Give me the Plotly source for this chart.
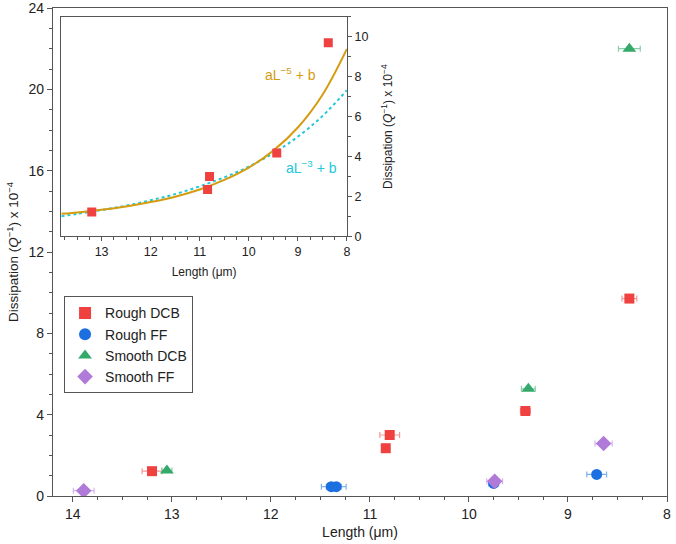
import plotly.graph_objects as go

# ---------------- data ----------------
rough_dcb_L = [13.20, 10.80, 10.84, 9.43, 8.38]
rough_dcb_Q = [1.22, 3.00, 2.35, 4.18, 9.71]
rough_dcb_err = [0.10, 0.10, 0.03, 0.05, 0.075]

rough_ff_L = [11.39, 11.34, 9.75, 8.71]
rough_ff_Q = [0.46, 0.46, 0.62, 1.06]
rough_ff_err = [0.10, 0.10, 0.05, 0.10]

smooth_dcb_L = [13.05, 9.40, 8.38]
smooth_dcb_Q = [1.25, 5.27, 22.0]
smooth_dcb_err = [0.05, 0.07, 0.11]

smooth_ff_L = [13.89, 9.74, 8.64]
smooth_ff_Q = [0.26, 0.72, 2.58]
smooth_ff_err = [0.105, 0.08, 0.087]

# inset fit curves
fit_L = [13.82, 13.5, 13.0, 12.5, 12.0, 11.5, 11.0, 10.5, 10.0, 9.5, 9.0, 8.5, 8.0]
fit5_Q = [1.13, 1.20, 1.34, 1.50, 1.72, 1.99, 2.35, 2.83, 3.45, 4.30, 5.46, 7.09, 9.40]
fit3_Q = [1.01, 1.13, 1.32, 1.54, 1.81, 2.12, 2.51, 2.96, 3.50, 4.17, 5.00, 6.03, 7.33]

main_xticks = [14, 13, 12, 11, 10, 9, 8]
main_yticks = [0, 4, 8, 12, 16, 20, 24]
inset_xticks = [13, 12, 11, 10, 9, 8]
inset_yticks = [0, 2, 4, 6, 8, 10]

RED, RED_L = "#f04141", "#f59a9a"
BLUE, BLUE_L = "#1c6fe0", "#7fb0ef"
GREEN, GREEN_L = "#33a96a", "#86d0a7"
PURPLE, PURPLE_L = "#b07ad9", "#d4b5ec"
GOLD = "#d49c10"
CYAN = "#22c8d8"
AXC = "#555555"
FONT = "Liberation Sans, Arial, Helvetica, sans-serif"

fig = go.Figure()

series = [
    ("Rough DCB", rough_dcb_L, rough_dcb_Q, rough_dcb_err, RED, RED_L, "square", 10),
    ("Rough FF", rough_ff_L, rough_ff_Q, rough_ff_err, BLUE, BLUE_L, "circle", 11),
    ("Smooth DCB", smooth_dcb_L, smooth_dcb_Q, smooth_dcb_err, GREEN, GREEN_L, "triangle-up", 12),
    ("Smooth FF", smooth_ff_L, smooth_ff_Q, smooth_ff_err, PURPLE, PURPLE_L, "diamond", 12),
]

for name, L, Q, err, c, cl, sym, sz in series:
    fig.add_trace(go.Scatter(
        x=L, y=Q, mode="markers", name=name, showlegend=False,
        marker=dict(symbol=sym, size=sz, color=c, line=dict(width=0)),
        error_x=dict(type="data", array=err, visible=True, color=cl, thickness=1.2, width=3),
        xaxis="x", yaxis="y",
    ))
for name, L, Q, err, c, cl, sym, sz in series:
    fig.add_trace(go.Scatter(
        x=[None], y=[None], mode="markers", name=name, showlegend=True,
        marker=dict(symbol=sym, size=sz, color=c, line=dict(width=0)),
        xaxis="x", yaxis="y",
    ))

# inset
fig.add_trace(go.Scatter(
    x=fit_L, y=fit3_Q, mode="lines", showlegend=False, line_shape="spline",
    line=dict(color=CYAN, width=2, dash="dot"), xaxis="x2", yaxis="y2"))
fig.add_trace(go.Scatter(
    x=fit_L, y=fit5_Q, mode="lines", showlegend=False, line_shape="spline",
    line=dict(color=GOLD, width=2), xaxis="x2", yaxis="y2"))
fig.add_trace(go.Scatter(
    x=rough_dcb_L, y=rough_dcb_Q, mode="markers", showlegend=False,
    marker=dict(symbol="square", size=9, color=RED), xaxis="x2", yaxis="y2"))

title_y = "Dissipation (<i>Q</i><sup>−1</sup>) x 10<sup>−4</sup>"

fig.update_layout(
    width=676, height=544,
    margin=dict(l=53, r=5, t=8, b=48),
    paper_bgcolor="white", plot_bgcolor="white",
    font=dict(family=FONT, size=13, color="#222222"),
    xaxis=dict(
        domain=[0, 1], range=[14.2, 8], tickvals=main_xticks,
        ticks="outside", ticklen=5, tickcolor=AXC, tickwidth=1,
        minor=dict(dtick=0.25, ticks="outside", ticklen=3, tickcolor=AXC),
        showline=True, linecolor=AXC, linewidth=1.2, mirror=True,
        showgrid=False, zeroline=False, automargin=False,
        title=dict(text="Length (μm)", font=dict(size=14), standoff=6),
        tickfont=dict(size=14), ticklabeloverflow="allow",
    ),
    yaxis=dict(
        domain=[0, 1], range=[0, 24.001], tickvals=main_yticks,
        ticks="outside", ticklen=5, tickcolor=AXC, tickwidth=1,
        minor=dict(dtick=1, ticks="outside", ticklen=3, tickcolor=AXC),
        showline=True, linecolor=AXC, linewidth=1.2, mirror=True,
        showgrid=False, zeroline=False, automargin=False,
        title=dict(text=title_y, font=dict(size=13.5), standoff=6),
        tickfont=dict(size=14), ticklabeloverflow="allow",
    ),
    xaxis2=dict(
        domain=[0.0136, 0.4787], anchor="y2", range=[13.82, 8], tickvals=inset_xticks,
        ticks="outside", ticklen=4, tickcolor=AXC,
        minor=dict(dtick=0.25, ticks="outside", ticklen=2.5, tickcolor=AXC),
        showline=True, linecolor=AXC, linewidth=1.2, mirror=True,
        showgrid=False, zeroline=False,
        title=dict(text="Length (μm)", font=dict(size=12), standoff=9),
        tickfont=dict(size=12.5),
    ),
    yaxis2=dict(
        domain=[0.532, 0.9816], anchor="x2", side="right", range=[0, 11], tickvals=inset_yticks,
        ticks="outside", ticklen=4, tickcolor=AXC,
        minor=dict(dtick=1, ticks="outside", ticklen=2.5, tickcolor=AXC),
        showline=True, linecolor=AXC, linewidth=1.2, mirror=True,
        showgrid=False, zeroline=False,
        title=dict(text=title_y, font=dict(size=12), standoff=16),
        tickfont=dict(size=12.5),
    ),
    legend=dict(
        x=0.018, y=0.409, xanchor="left", yanchor="top",
        bgcolor="white", bordercolor=AXC, borderwidth=1,
        font=dict(size=14, color="#222222"), itemsizing="constant",
        tracegroupgap=0,
    ),
    annotations=[
        dict(text="aL<sup>−5</sup> + b", x=9.14, y=8.16, xref="x2", yref="y2",
             showarrow=False, font=dict(size=14, color=GOLD)),
        dict(text="aL<sup>−3</sup> + b", x=8.73, y=3.47, xref="x2", yref="y2",
             showarrow=False, font=dict(size=14, color=CYAN)),
    ],
)

fig.write_html("out.html")
